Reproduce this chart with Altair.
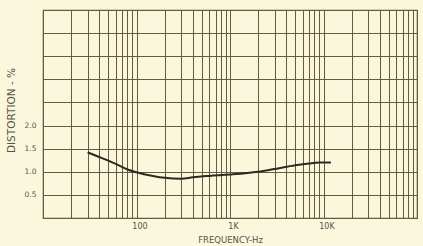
import altair as alt
import pandas as pd

# Distortion curve
freq_hz = [30, 40, 50, 60, 80, 100, 150, 200, 300, 400, 600, 1000, 2000, 3000, 5000, 7000, 9000, 12000]
distortion_pct = [1.42, 1.32, 1.24, 1.17, 1.05, 0.99, 0.91, 0.87, 0.85, 0.88, 0.91, 0.94, 1.00, 1.06, 1.14, 1.18, 1.20, 1.20]

# Axis ticks / grid
x_grid = [m * 10 ** k for k in range(1, 5) for m in range(1, 10)] + [100000]
y_grid = [0, 0.5, 1.0, 1.5, 2.0, 2.5, 3.0, 3.5, 4.0, 4.5]

df = pd.DataFrame({"freq": freq_hz, "dist": distortion_pct})

GRID = "#655c40"
TEXT = "#55534a"
BG = "#fbf7dc"
FONT = "DejaVu Sans"

x_label_expr = ("datum.value == 100 ? '100' : datum.value == 1000 ? '1K' : "
                "datum.value == 10000 ? '10K' : ''")
y_label_expr = ("(datum.value >= 0.5 && datum.value <= 2.0) ? format(datum.value, '.1f') : ''")

chart = alt.Chart(df).mark_line(color="#2b2a22", strokeWidth=2, interpolate="monotone").encode(
    x=alt.X("freq:Q",
            scale=alt.Scale(type="log", domain=[10, 100000], nice=False),
            axis=alt.Axis(values=x_grid, labelExpr=x_label_expr, title="FREQUENCY-Hz",
                          grid=True, gridColor=GRID, gridOpacity=1, gridWidth=1,
                          ticks=False, domain=False, labelOffset=3, labelPadding=4,
                          labelFont=FONT, labelFontSize=8, labelColor=TEXT,
                          titleFont=FONT, titleFontSize=8.5, titleFontWeight="normal",
                          titleColor=TEXT, titleY=17, titleBaseline="top",
                          labelFlush=False, labelOverlap=False)),
    y=alt.Y("dist:Q",
            scale=alt.Scale(domain=[0, 4.5], nice=False, zero=True),
            axis=alt.Axis(values=y_grid, labelExpr=y_label_expr, title="DISTORTION - %",
                          grid=True, gridColor=GRID, gridOpacity=1, gridWidth=1,
                          ticks=False, domain=False, labelPadding=7,
                          labelFont=FONT, labelFontSize=7.5, labelColor=TEXT,
                          titleFont=FONT, titleFontSize=10.5, titleFontWeight="normal",
                          titleColor=TEXT, titleX=-27, titleY=100, labelOverlap=False)),
).properties(
    width=374,
    height=208,
    autosize=alt.AutoSizeParams(type="none"),
    padding={"left": 43, "top": 10, "right": 6, "bottom": 28},
    background=BG,
).configure_view(
    stroke=GRID, strokeWidth=1.2, fill=BG
)

chart.save("out.html", embed_options={"renderer": "svg", "actions": False})
